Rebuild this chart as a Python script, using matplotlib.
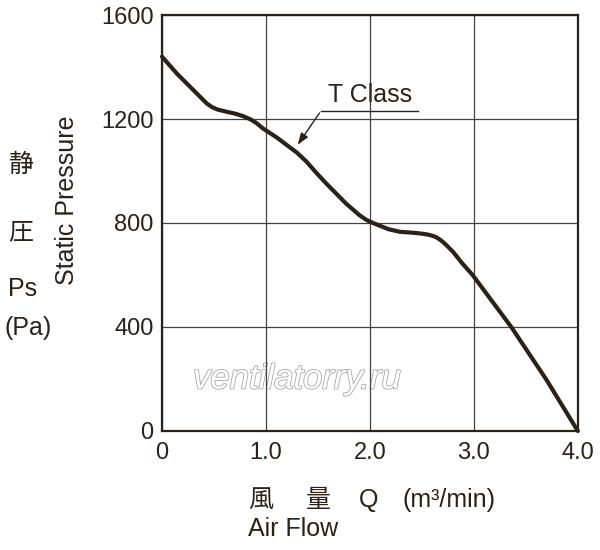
import matplotlib.pyplot as plt
import matplotlib.patheffects as pe

# curve
flow = [0.0, 0.14, 0.30, 0.38, 0.43, 0.48, 0.53, 0.62, 0.70, 0.78, 0.85, 0.91,
        0.97, 1.10, 1.20, 1.30, 1.39, 1.48, 1.58, 1.77, 1.90, 1.97, 2.03, 2.08,
        2.18, 2.29, 2.40, 2.48, 2.55, 2.60, 2.64, 2.67, 2.70, 2.74, 2.80, 2.89,
        2.99, 3.12, 3.36, 3.70, 4.0]
pressure = [1440, 1376, 1312, 1280, 1260, 1246, 1237, 1228, 1221, 1211, 1199, 1184,
            1164, 1130, 1100, 1070, 1036, 995, 952, 875, 830, 811, 800, 792,
            776, 766, 763, 760, 756, 751, 745, 737, 728, 713, 689, 644,
            599, 529, 400, 196, 0]

x_ticks = [0, 1, 2, 3, 4]
x_labels = ['0', '1.0', '2.0', '3.0', '4.0']
y_ticks = [0, 400, 800, 1200, 1600]

ink = '#2b2116'
font = ['Liberation Sans', 'Noto Sans CJK JP', 'DejaVu Sans']
plt.rcParams['font.family'] = font

fig = plt.figure(figsize=(6, 5.5), dpi=100)
ax = fig.add_axes([0.27, 0.2164, 0.693, 0.7563])

ax.plot(flow, pressure, color=ink, linewidth=3, solid_capstyle='round',
        solid_joinstyle='round', clip_on=False, zorder=4)

ax.set_xlim(0, 4)
ax.set_ylim(0, 1600)
ax.set_xticks(x_ticks)
ax.set_xticklabels(x_labels)
ax.set_yticks(y_ticks)
ax.tick_params(length=0, labelsize=17, labelcolor=ink)
ax.tick_params(axis='x', pad=8)
ax.tick_params(axis='y', pad=6)
ax.grid(True, color='#4a4035', linewidth=0.9)
for s in ax.spines.values():
    s.set_color(ink)
    s.set_linewidth(1.6)

# watermark
ax.text(1.3, 200, 'ventilatorry.ru', fontsize=25, style='italic', color='white',
        ha='center', va='center', zorder=1,
        path_effects=[pe.Stroke(linewidth=1.2, foreground='#a8a8a8'), pe.Normal()])

# T Class label
lead_x, lead_y = 1.53, 1232
ax.annotate('', xy=(1.29, 1092), xytext=(lead_x, lead_y),
            arrowprops=dict(arrowstyle='-|>,head_length=0.7,head_width=0.25',
                            color=ink, lw=1))
ax.plot([lead_x, 2.46], [lead_y, lead_y], color=ink, lw=1)
ax.text(2.0, 1246, 'T Class', fontsize=18, color=ink, ha='center', va='bottom')

# axis titles
fig.text(67 / 600, 1 - 200 / 550, 'Static Pressure', rotation=90, fontsize=18,
         color=ink, ha='center', va='center')
for txt, xp, yp in [('静', 22, 165), ('圧', 21, 232), ('Ps', 23, 289), ('(Pa)', 28, 328)]:
    fig.text(xp / 600, 1 - yp / 550, txt, fontsize=18, color=ink,
             ha='center', va='center')

for txt, xp in [('風', 261), ('量', 318), ('Q', 369)]:
    fig.text(xp / 600, 1 - 500 / 550, txt, fontsize=18, color=ink,
             ha='center', va='center')
fig.text(403 / 600, 1 - 500 / 550, '(m³/min)', fontsize=18, color=ink,
         ha='left', va='center')
fig.text(248 / 600, 1 - 529 / 550, 'Air Flow', fontsize=18, color=ink,
         ha='left', va='center')

fig.savefig('out.png', dpi=100)
